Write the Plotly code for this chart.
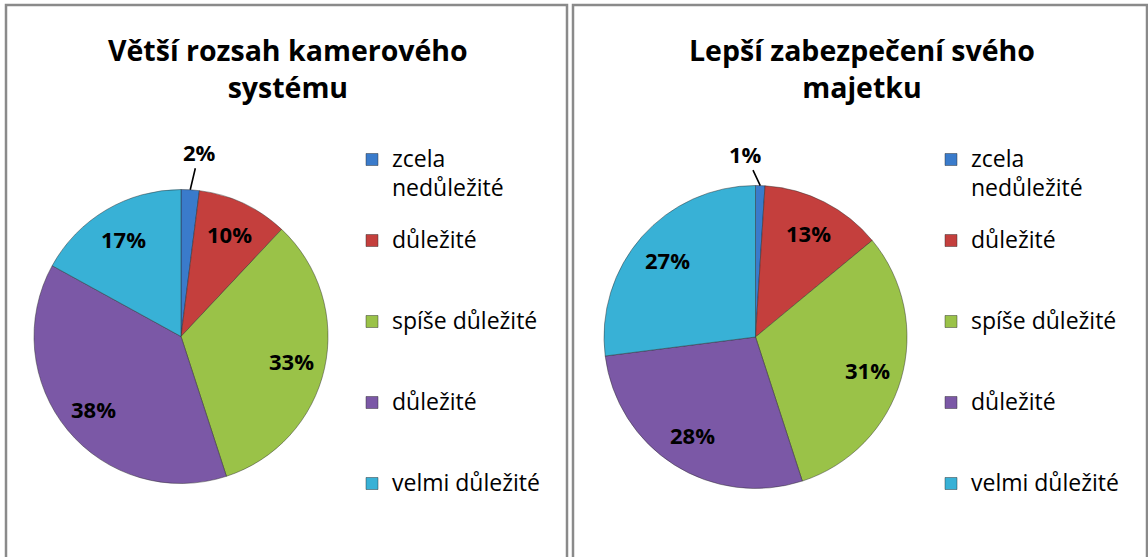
import math
import plotly.graph_objects as go

W, H = 1148, 557

# ---------------- data ----------------
categories = ["zcela nedůležité", "důležité", "spíše důležité", "důležité", "velmi důležité"]
left_title = "Větší rozsah kamerového<br>systému"
right_title = "Lepší zabezpečení svého<br>majetku"
left_values = [2, 10, 33, 38, 17]
right_values = [1, 13, 31, 28, 27]
colors = ["#3A7BCB", "#C43F3D", "#9AC248", "#7B58A6", "#38B1D6"]

FONT = "Open Sans"

# ---------------- layout helpers (pixels -> paper) ----------------
def px(x):
    return x / W

def py(y):
    return 1 - y / H

charts = [
    dict(values=left_values, title=left_title, cx=181, cy=336.5, r=147,
         title_x=288, legend_x=352, callout=(9, -38), legend="legend"),
    dict(values=right_values, title=right_title, cx=755.5, cy=337, r=151.5,
         title_x=862, legend_x=931, callout=(-15, -32), legend="legend2"),
]


def legend_labels(cats, k):
    out = []
    for i, c in enumerate(cats):
        words = c.split(" ", 1) if len(c) > 15 else [c]
        lines = []
        for j, w in enumerate(words):
            style = "font-size:23px" + (";baseline-shift:-3px" if j > 0 else "")
            lines.append(f'<span style="{style}">{w}</span>')
        if i < len(cats) - 1:
            pad = '<span style="font-size:14px">\u00a0</span>' if len(words) > 1 else "\u00a0"
            while len(lines) < 3:
                lines.append(pad)
        out.append("<br>".join(lines) + "\u200b" * i + "\u200c" * (k + 1))
    return out


fig = go.Figure()
annotations = []
shapes = []

for k, ch in enumerate(charts):
    vals = ch["values"]
    cx, cy, r = ch["cx"], ch["cy"], ch["r"]
    fig.add_trace(go.Pie(
        labels=legend_labels(categories, k),
        values=vals,
        sort=False,
        direction="clockwise",
        rotation=0,
        textinfo="none",
        hoverinfo="skip",
        marker=dict(colors=colors, line=dict(color="rgba(40,40,40,0.45)", width=1)),
        domain=dict(x=[px(cx - r), px(cx + r)], y=[py(cy + r), py(cy - r)]),
        legend=ch["legend"],
        showlegend=True,
    ))
    total = sum(vals)
    cum = 0
    for v in vals:
        theta = 2 * math.pi * (cum + v / 2) / total
        cum += v
        s, c = math.sin(theta), math.cos(theta)
        if v / total < 0.05:
            hx, hy = cx + r * s, cy - r * c
            annotations.append(dict(
                x=px(hx), y=py(hy), xref="paper", yref="paper",
                text=f"<b>{v}%</b>", showarrow=True, arrowhead=0,
                arrowwidth=1.6, arrowcolor="black",
                ax=ch["callout"][0], ay=ch["callout"][1],
                font=dict(family=FONT, size=22, color="black"),
            ))
        else:
            f = 0.77
            tx, ty = cx + f * r * s, cy - f * r * c
            annotations.append(dict(
                x=px(tx), y=py(ty), xref="paper", yref="paper",
                text=f"<b>{v}%</b>", showarrow=False,
                xanchor="center", yanchor="middle",
                font=dict(family=FONT, size=22, color="black"),
            ))
    annotations.append(dict(
        x=px(ch["title_x"]), y=py(68.5), xref="paper", yref="paper",
        text=f"<b>{ch['title']}</b>", showarrow=False,
        xanchor="center", yanchor="middle",
        font=dict(family=FONT, size=28.5, color="black"),
    ))

# chart area borders
for x0, x1 in [(6, 567), (573, 1147)]:
    shapes.append(dict(type="rect", xref="paper", yref="paper",
                       x0=px(x0), x1=px(x1), y0=-0.1, y1=py(5),
                       line=dict(color="#8a8a8a", width=2.5), fillcolor="rgba(0,0,0,0)"))

leg_common = dict(
    xanchor="left", yanchor="top", valign="top",
    font=dict(family=FONT, size=20, color="black"),
    bgcolor="rgba(0,0,0,0)", borderwidth=0,
    itemclick=False, itemdoubleclick=False,
)

fig.update_layout(
    width=W, height=H,
    margin=dict(l=0, r=0, t=0, b=0),
    paper_bgcolor="white",
    plot_bgcolor="white",
    font=dict(family=FONT),
    annotations=annotations,
    shapes=shapes,
    legend=dict(x=px(charts[0]["legend_x"]), y=py(140), **leg_common),
    legend2=dict(x=px(charts[1]["legend_x"]), y=py(140), **leg_common),
)

fig.write_html(
    "out.html",
    config={"displayModeBar": False},
    post_script="document.body.style.margin='0';document.body.style.overflow='hidden';",
)
